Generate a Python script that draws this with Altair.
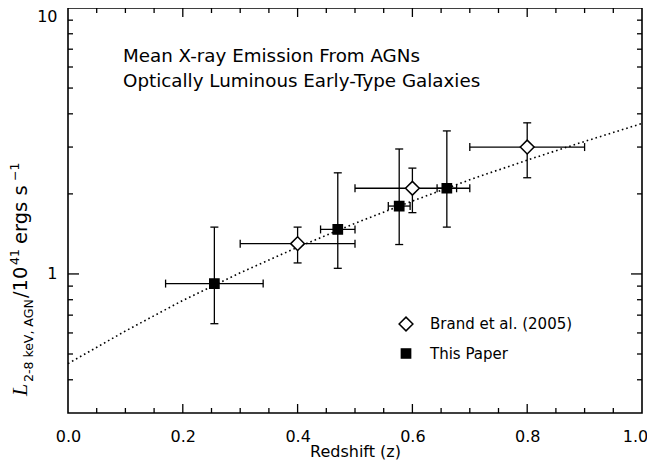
import altair as alt
import pandas as pd

# ---------------- data ----------------
series_names = ["Brand et al. (2005)", "This Paper"]

brand_z = [0.40, 0.60, 0.80]
brand_L = [1.30, 2.10, 3.00]
brand_zlo = [0.30, 0.50, 0.70]
brand_zhi = [0.50, 0.70, 0.90]
brand_Llo = [1.10, 1.70, 2.30]
brand_Lhi = [1.50, 2.50, 3.70]

paper_z = [0.255, 0.470, 0.577, 0.660]
paper_L = [0.92, 1.47, 1.80, 2.10]
paper_zlo = [0.170, 0.440, 0.558, 0.643]
paper_zhi = [0.340, 0.500, 0.596, 0.677]
paper_Llo = [0.65, 1.05, 1.29, 1.50]
paper_Lhi = [1.50, 2.40, 2.95, 3.45]

fit_z = [0.0, 0.1, 0.2, 0.3, 0.4, 0.5, 0.6, 0.7, 0.8, 0.9, 1.0]
fit_L = [0.46, 0.61, 0.795, 1.01, 1.26, 1.55, 1.88, 2.26, 2.68, 3.15, 3.68]

notes = ["Mean X-ray Emission From AGNs", "Optically Luminous Early-Type Galaxies"]

x_tick_labels = [0.0, 0.2, 0.4, 0.6, 0.8, 1.0]
x_minor_ticks = [0.05, 0.1, 0.15, 0.25, 0.3, 0.35, 0.45, 0.5, 0.55, 0.65, 0.7, 0.75, 0.85, 0.9, 0.95]
x_major_ticks = [0.2, 0.4, 0.6, 0.8]
y_tick_labels = [1, 10]
y_minor_ticks = [0.4, 0.5, 0.6, 0.7, 0.8, 0.9, 2, 3, 4, 5, 6, 7, 8, 9]
y_major_ticks = [1]

# ---------------- tables ----------------
pts = pd.concat([
    pd.DataFrame({"z": brand_z, "L": brand_L, "zlo": brand_zlo, "zhi": brand_zhi,
                  "Llo": brand_Llo, "Lhi": brand_Lhi, "series": series_names[0]}),
    pd.DataFrame({"z": paper_z, "L": paper_L, "zlo": paper_zlo, "zhi": paper_zhi,
                  "Llo": paper_Llo, "Lhi": paper_Lhi, "series": series_names[1]}),
], ignore_index=True)
fit = pd.DataFrame({"z": fit_z, "L": fit_L})

W, H = 574, 405
FONT = "DejaVu Sans"
xs = alt.Scale(domain=[0, 1], nice=False, zero=False)
ys = alt.Scale(type="log", domain=[0.3, 10], nice=False)

x_axis = alt.Axis(values=x_tick_labels, format=".1f", ticks=False, domain=False, grid=False,
                  labelFontSize=16, labelPadding=15, labelFlush=False, labelOverlap=False,
                  labelOffset=alt.condition("datum.value == 1", alt.value(-7), alt.value(0)),
                  title="Redshift (z)", titleFontSize=16, titleFontWeight="normal",
                  titlePadding=-1, titleFont=FONT)
y_axis = alt.Axis(values=y_tick_labels, format="~g", ticks=False, domain=False, grid=False,
                  labelFontSize=16, labelPadding=11, labelFlush=False, labelOverlap=False,
                  labelBaseline=alt.condition("datum.value == 10", alt.value("top"), alt.value("middle")),
                  title=None)

def X(f):
    return alt.X(f, scale=xs, axis=x_axis, title="Redshift (z)")

def Y(f):
    return alt.Y(f, scale=ys, axis=y_axis, title=None)

line = alt.Chart(fit).mark_line(color="black", strokeWidth=1.6, strokeDash=[1.6, 3.0],
                                strokeCap="butt").encode(x=X("z:Q"), y=Y("L:Q"))

base = alt.Chart(pts)
vbars = base.mark_rule(color="black", strokeWidth=1.3).encode(
    x=X("z:Q"), y=Y("Llo:Q"), y2="Lhi:Q")
hbars = base.mark_rule(color="black", strokeWidth=1.3).encode(
    x=X("zlo:Q"), x2="zhi:Q", y=Y("L:Q"))

def cap(xf, yf, orient):
    return base.mark_tick(orient=orient, size=8, thickness=1.3, color="black", opacity=1).encode(
        x=X(xf), y=Y(yf))

caps = [cap("z:Q", "Lhi:Q", "horizontal"), cap("z:Q", "Llo:Q", "horizontal"),
        cap("zlo:Q", "L:Q", "vertical"), cap("zhi:Q", "L:Q", "vertical")]

leg = dict(title=None, orient="none", legendX=330, legendY=308, labelFont=FONT, labelFontSize=15,
           labelColor="black", symbolStrokeColor="black", symbolStrokeWidth=1.5, symbolOpacity=1,
           rowPadding=11, labelOffset=16, padding=0)
points = base.mark_point(stroke="black", strokeWidth=1.5, opacity=1).encode(
    x=X("z:Q"),
    y=Y("L:Q"),
    shape=alt.Shape("series:N", scale=alt.Scale(domain=series_names, range=["diamond", "square"]),
                    legend=alt.Legend(**leg)),
    fill=alt.Fill("series:N", scale=alt.Scale(domain=series_names, range=["white", "black"]),
                  legend=alt.Legend(**leg)),
    stroke=alt.Stroke("series:N", scale=alt.Scale(domain=series_names, range=["black", "black"]),
                      legend=alt.Legend(**leg)),
    size=alt.Size("series:N", scale=alt.Scale(domain=series_names, range=[190, 85]),
                  legend=alt.Legend(**leg)),
)

one = pd.DataFrame({"a": [0]})
note = alt.Chart(one).mark_text(text=notes, align="left", baseline="middle", font=FONT,
                                fontSize=18.3, lineHeight=25, color="black").encode(
    x=alt.value(55), y=alt.value(49))

def ylab(text, x, y, size, font=FONT, style="normal"):
    return alt.Chart(one).mark_text(text=text, angle=270, align="left", baseline="alphabetic",
                                    font=font, fontSize=size, fontStyle=style, color="black").encode(
        x=alt.value(x), y=alt.value(y))

ytitle = [
    ylab("L", -41, 388, 22, font="Liberation Serif", style="italic"),
    ylab("2-8 keV, AGN", -35, 374, 12.5),
    ylab("/10", -41, 290, 19.5),
    ylab("41", -49, 257, 12.5),
    ylab("ergs s", -41, 236, 19.5),
    ylab("\u22121", -49, 173, 12.5),
]

def trule(vals, side, length):
    d = pd.DataFrame({"v": vals})
    m = alt.Chart(d).mark_rule(color="black", strokeWidth=1.3)
    if side == "left":
        return m.encode(y=Y("v:Q"), x=alt.value(0), x2=alt.value(length))
    if side == "right":
        return m.encode(y=Y("v:Q"), x=alt.value(W), x2=alt.value(W - length))
    if side == "bottom":
        return m.encode(x=X("v:Q"), y=alt.value(H), y2=alt.value(H - length))
    return m.encode(x=X("v:Q"), y=alt.value(0), y2=alt.value(length))

ticks = [
    trule(y_major_ticks, "left", 11), trule(y_minor_ticks, "left", 5),
    trule(y_major_ticks, "right", 11), trule(y_minor_ticks, "right", 5),
    trule(x_major_ticks, "bottom", 9), trule(x_minor_ticks, "bottom", 5),
    trule(x_major_ticks, "top", 9), trule(x_minor_ticks, "top", 5),
]

chart = alt.layer(line, vbars, hbars, *caps, points, note, *ytitle, *ticks).properties(
    width=W, height=H,
    autosize=alt.AutoSizeParams(type="none"),
    padding={"left": 60, "top": 0, "right": 5, "bottom": 47},
    background="white",
).configure_view(stroke="black", strokeWidth=1.6).configure_axis(
    labelFont=FONT, labelColor="black", titleColor="black"
)

chart.save("out.html", embed_options={"renderer": "svg", "actions": False})
